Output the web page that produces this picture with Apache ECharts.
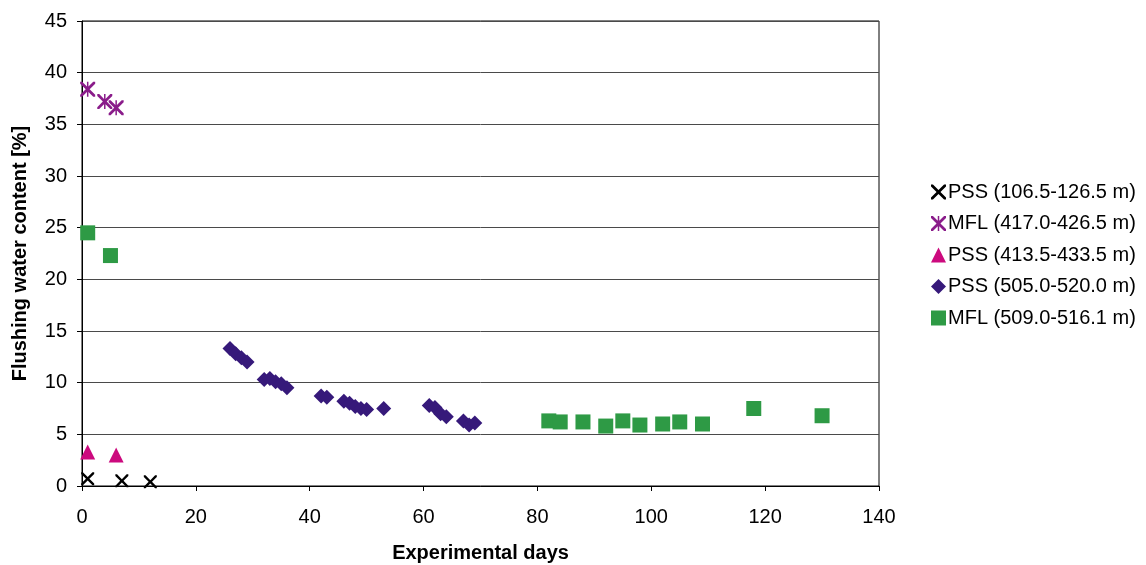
<!DOCTYPE html>
<html>
<head>
<meta charset="utf-8">
<script src="https://cdn.jsdelivr.net/npm/echarts@6/dist/echarts.min.js"></script>
<style>
  html, body { margin: 0; padding: 0; background: #fff; }
  #chart { width: 1146px; height: 565px; }
</style>
</head>
<body>
<div id="chart"></div>
<script>
// Flushing water content over the experiment, per borehole section
const seriesNames = [
  'PSS (106.5-126.5 m)',
  'MFL (417.0-426.5 m)',
  'PSS (413.5-433.5 m)',
  'PSS (505.0-520.0 m)',
  'MFL (509.0-516.1 m)'
];

// [day, water content %]
const pss106 = [[1, 0.7], [7, 0.5], [12, 0.4]];
const mfl417 = [[1, 38.4], [4, 37.2], [6, 36.6]];
const pss413 = [[1, 3.3], [6, 3.0]];
const pss505 = [
  [26, 13.3], [27, 12.8], [28, 12.4], [29, 12.0],
  [32, 10.3], [33, 10.4], [34, 10.1], [35, 9.9], [36, 9.5],
  [42, 8.7], [43, 8.6], [46, 8.2], [47, 8.0], [48, 7.7], [49, 7.5], [50, 7.4],
  [53, 7.5], [61, 7.8], [62, 7.6], [63, 7.0], [64, 6.7],
  [67, 6.3], [68, 5.9], [69, 6.1]
];
const mfl509 = [
  [1, 24.5], [5, 22.3],
  [82, 6.3], [84, 6.2], [88, 6.2], [92, 5.8], [95, 6.3], [98, 5.9],
  [102, 6.0], [105, 6.2], [109, 6.0], [118, 7.5], [130, 6.8]
];

const xTicks = { min: 0, max: 140, interval: 20 };
const yTicks = { min: 0, max: 45, interval: 5 };

// marker outlines
const crossPath = 'path://M0,0 L2.6,0 L10,7.4 L17.4,0 L20,0 L20,2.6 L12.6,10 L20,17.4 L20,20 L17.4,20 L10,12.6 L2.6,20 L0,20 L0,17.4 L7.4,10 L0,2.6 Z';
const starPath = crossPath + ' M9,0 L11,0 L11,20 L9,20 Z';

const colors = ['#000000', '#8a1c8a', '#cc0a7e', '#36197a', '#2e9a45'];
const symbols = [crossPath, starPath, 'triangle', 'diamond', 'rect'];
const sizes = [13, 15, 15, 15, 15];
const datasets = [pss106, mfl417, pss413, pss505, mfl509];

const font = '"Liberation Sans", Arial, sans-serif';

const chart = echarts.init(document.getElementById('chart'), null, { renderer: 'canvas' });
chart.setOption({
  animation: false,
  backgroundColor: '#fff',
  grid: {
    left: 82, right: 267, top: 21, bottom: 79,
    outerBoundsMode: 'none',
    containLabel: false,
    show: true, borderColor: '#000', borderWidth: 1
  },
  legend: {
    orient: 'vertical',
    left: 926,
    top: 177,
    itemWidth: 15,
    itemHeight: 15,
    itemGap: 11.5,
    textStyle: { fontFamily: font, fontSize: 20, lineHeight: 20, color: '#000', padding: [0, 0, 0, -3] },
    data: seriesNames.map((n, i) => ({ name: n, icon: symbols[i] }))
  },
  xAxis: {
    type: 'value',
    min: xTicks.min, max: xTicks.max, interval: xTicks.interval,
    name: 'Experimental days',
    nameLocation: 'middle',
    nameGap: 57,
    nameTextStyle: { fontFamily: font, fontSize: 20, fontWeight: 'bold', color: '#000' },
    axisLine: { show: true, lineStyle: { color: '#000', width: 1 } },
    axisTick: { show: true, inside: false, length: 5, lineStyle: { color: '#000' } },
    axisLabel: { fontFamily: font, fontSize: 20, color: '#000', margin: 21 },
    splitLine: { show: false }
  },
  yAxis: {
    type: 'value',
    min: yTicks.min, max: yTicks.max, interval: yTicks.interval,
    name: 'Flushing water content [%]',
    nameLocation: 'middle',
    nameGap: 52,
    nameTextStyle: { fontFamily: font, fontSize: 20, fontWeight: 'bold', color: '#000' },
    axisLine: { show: true, lineStyle: { color: '#000', width: 1 } },
    axisTick: { show: true, inside: false, length: 5, lineStyle: { color: '#000' } },
    axisLabel: { fontFamily: font, fontSize: 20, color: '#000', margin: 15 },
    splitLine: { show: true, lineStyle: { color: '#4a4a4a', width: 1 } }
  },
  series: seriesNames.map((n, i) => ({
    name: n,
    type: 'scatter',
    data: datasets[i],
    symbol: symbols[i],
    symbolSize: sizes[i],
    itemStyle: { color: colors[i], opacity: 1 },
    z: 3 + i
  }))
});
</script>
</body>
</html>
